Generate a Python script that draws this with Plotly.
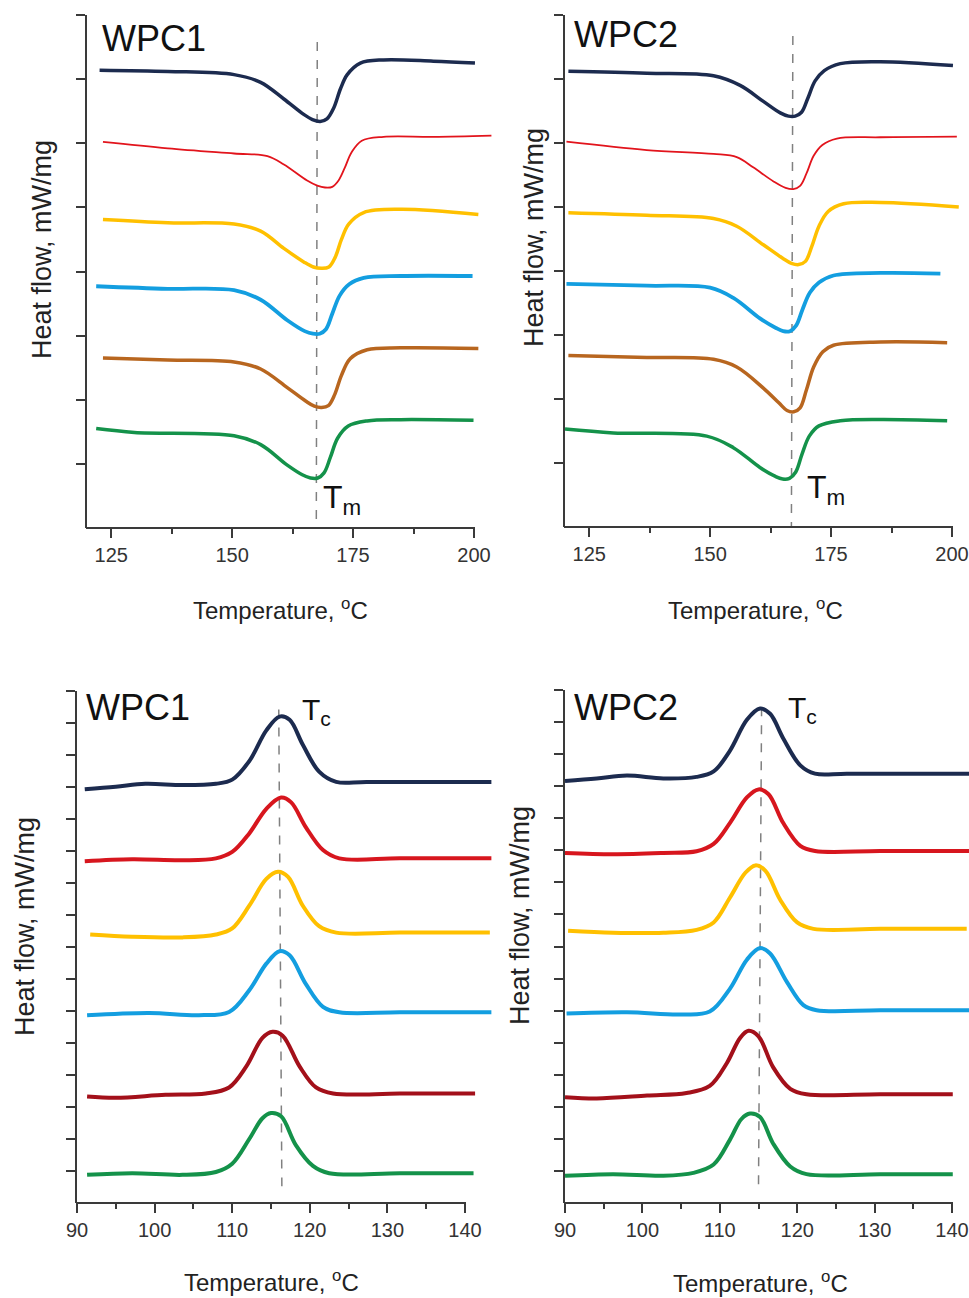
import plotly.graph_objects as go

W, H = 969, 1298
FONT = "Liberation Sans, Arial, sans-serif"

# ---------------- Melting curves (top row), heat flow in stacked arbitrary units ----------------
# WPC1
m1_navy_T = [122.6, 136.7, 150.4, 155.9, 160.7, 164.8, 166.6, 168.2, 169.6, 171.0, 172.4, 173.8, 176.5, 181.3, 191.6, 200.2]
m1_navy_hf = [7.14, 7.12, 7.07, 6.95, 6.69, 6.45, 6.37, 6.34, 6.38, 6.55, 6.85, 7.07, 7.25, 7.30, 7.28, 7.25]
m1_red_T = [123.3, 136.7, 150.4, 157.3, 160.7, 165.5, 167.6, 169.2, 170.7, 172.0, 173.3, 174.7, 176.8, 181.3, 191.6, 203.6]
m1_red_hf = [6.02, 5.92, 5.84, 5.80, 5.67, 5.42, 5.34, 5.31, 5.32, 5.42, 5.62, 5.86, 6.04, 6.10, 6.10, 6.12]
m1_yel_T = [123.3, 136.7, 150.4, 155.9, 160.7, 164.8, 166.8, 168.5, 170.0, 171.3, 172.6, 174.1, 177.2, 184.8, 200.9]
m1_yel_hf = [4.81, 4.76, 4.74, 4.63, 4.36, 4.15, 4.07, 4.05, 4.07, 4.22, 4.50, 4.74, 4.92, 4.97, 4.89]
m1_blu_T = [121.9, 136.7, 150.4, 155.9, 161.4, 165.0, 166.7, 168.1, 169.4, 170.7, 172.2, 174.2, 177.2, 184.8, 199.7]
m1_blu_hf = [3.77, 3.73, 3.71, 3.56, 3.24, 3.07, 3.03, 3.03, 3.10, 3.34, 3.62, 3.80, 3.90, 3.93, 3.93]
m1_brn_T = [123.3, 136.7, 150.4, 155.9, 161.4, 165.2, 167.0, 168.5, 169.9, 171.2, 172.6, 174.4, 177.9, 184.8, 200.9]
m1_brn_hf = [2.65, 2.62, 2.59, 2.48, 2.19, 1.98, 1.90, 1.88, 1.91, 2.08, 2.38, 2.64, 2.78, 2.81, 2.80]
m1_grn_T = [121.9, 129.8, 150.4, 155.9, 161.4, 164.5, 166.2, 167.7, 169.0, 170.3, 171.8, 174.0, 177.9, 184.8, 199.9]
m1_grn_hf = [1.55, 1.49, 1.44, 1.30, 0.98, 0.83, 0.78, 0.78, 0.86, 1.10, 1.40, 1.59, 1.67, 1.69, 1.68]
m1_tm_T = [167.6, 167.4]
m1_tm_hf = [7.58, 0.0]

# WPC2
m2_navy_T = [120.7, 136.9, 150.7, 156.2, 161.0, 164.5, 166.2, 167.6, 168.9, 170.2, 171.7, 173.6, 176.9, 185.2, 200.2]
m2_navy_hf = [7.12, 7.09, 7.05, 6.90, 6.65, 6.47, 6.42, 6.42, 6.48, 6.70, 6.97, 7.13, 7.24, 7.27, 7.21]
m2_red_T = [120.3, 136.9, 150.7, 155.5, 158.9, 163.1, 165.6, 167.2, 168.6, 169.9, 171.4, 173.2, 176.2, 185.2, 201.0]
m2_red_hf = [6.02, 5.89, 5.83, 5.78, 5.62, 5.40, 5.30, 5.28, 5.33, 5.52, 5.80, 5.97, 6.07, 6.09, 6.10]
m2_yel_T = [120.7, 136.9, 150.7, 155.5, 161.0, 165.0, 166.8, 168.3, 169.7, 171.0, 172.5, 174.4, 177.6, 185.2, 201.4]
m2_yel_hf = [4.91, 4.87, 4.82, 4.70, 4.41, 4.20, 4.12, 4.10, 4.15, 4.38, 4.70, 4.93, 5.05, 5.07, 5.00]
m2_blu_T = [120.3, 136.9, 150.0, 154.8, 160.3, 163.6, 165.1, 166.5, 167.8, 169.1, 170.6, 172.5, 175.5, 185.2, 197.6]
m2_blu_hf = [3.80, 3.77, 3.74, 3.58, 3.26, 3.11, 3.06, 3.06, 3.15, 3.40, 3.66, 3.82, 3.93, 3.97, 3.96]
m2_brn_T = [120.7, 136.9, 150.7, 155.5, 161.0, 164.2, 165.9, 167.3, 168.6, 169.9, 171.4, 173.3, 175.5, 185.2, 199.0]
m2_brn_hf = [2.68, 2.65, 2.62, 2.50, 2.17, 1.94, 1.82, 1.80, 1.86, 2.14, 2.50, 2.74, 2.84, 2.89, 2.88]
m2_grn_T = [120.0, 130.0, 149.3, 154.8, 160.3, 163.5, 165.0, 166.4, 167.7, 169.0, 170.5, 172.5, 176.9, 185.2, 199.0]
m2_grn_hf = [1.53, 1.47, 1.42, 1.24, 0.93, 0.79, 0.75, 0.76, 0.86, 1.14, 1.42, 1.58, 1.66, 1.68, 1.66]
m2_tm_T = [167.1, 166.8]
m2_tm_hf = [7.67, 0.0]

# ---------------- Crystallization curves (bottom row) ----------------
# WPC1
c1_navy_T = [91.0, 95.0, 98.8, 103.6, 107.9, 110.0, 112.2, 114.4, 116.1, 117.4, 119.1, 121.2, 123.4, 127.3, 143.4]
c1_navy_hf = [12.93, 13.01, 13.10, 13.06, 13.10, 13.23, 13.81, 14.77, 15.20, 15.10, 14.32, 13.48, 13.16, 13.16, 13.16]
c1_red_T = [91.0, 97.1, 103.6, 107.9, 110.0, 112.2, 114.4, 116.3, 117.6, 119.5, 121.7, 123.8, 131.6, 143.4]
c1_red_hf = [10.68, 10.74, 10.71, 10.77, 10.97, 11.55, 12.32, 12.67, 12.52, 11.74, 11.03, 10.77, 10.77, 10.77]
c1_yel_T = [91.7, 97.1, 103.6, 107.9, 110.0, 112.2, 114.4, 115.9, 117.2, 119.1, 121.2, 123.4, 131.6, 143.2]
c1_yel_hf = [8.39, 8.32, 8.30, 8.39, 8.58, 9.29, 10.13, 10.35, 10.19, 9.29, 8.65, 8.45, 8.45, 8.45]
c1_blu_T = [91.3, 99.3, 105.7, 109.6, 112.2, 114.4, 116.1, 117.4, 119.5, 121.7, 123.8, 131.6, 143.4]
c1_blu_hf = [5.87, 5.94, 5.87, 5.97, 6.65, 7.48, 7.87, 7.74, 6.84, 6.13, 5.96, 5.96, 5.96]
c1_mar_T = [91.3, 95.0, 101.4, 106.6, 109.6, 111.8, 113.9, 115.2, 116.5, 118.7, 120.8, 123.0, 131.6, 141.3]
c1_mar_hf = [3.33, 3.29, 3.38, 3.42, 3.61, 4.26, 5.16, 5.35, 5.23, 4.26, 3.61, 3.42, 3.42, 3.42]
c1_grn_T = [91.3, 97.1, 103.6, 107.9, 110.0, 112.2, 113.9, 115.0, 116.3, 118.2, 120.4, 122.5, 131.6, 141.1]
c1_grn_hf = [0.88, 0.93, 0.88, 0.97, 1.23, 2.00, 2.65, 2.81, 2.71, 1.81, 1.16, 0.93, 0.93, 0.93]
c1_tc_T = [116.0, 116.4]
c1_tc_hf = [15.42, 0.52]

# WPC2
c2_navy_T = [90.0, 94.1, 98.0, 102.7, 107.0, 109.2, 111.3, 113.5, 115.2, 116.5, 118.2, 120.4, 122.3, 126.4, 142.2]
c2_navy_hf = [13.16, 13.24, 13.33, 13.24, 13.29, 13.46, 14.10, 15.07, 15.42, 15.26, 14.49, 13.65, 13.39, 13.39, 13.39]
c2_red_T = [90.0, 96.2, 102.7, 107.0, 109.2, 111.3, 113.5, 115.0, 116.3, 118.2, 120.4, 122.3, 130.7, 142.2]
c2_red_hf = [10.92, 10.88, 10.92, 10.97, 11.20, 11.85, 12.65, 12.90, 12.75, 11.85, 11.14, 10.98, 10.98, 10.98]
c2_yel_T = [90.4, 96.2, 102.7, 107.0, 109.2, 111.3, 113.3, 114.6, 115.9, 117.8, 120.0, 122.1, 130.7, 141.9]
c2_yel_hf = [8.49, 8.43, 8.43, 8.52, 8.75, 9.52, 10.30, 10.53, 10.36, 9.46, 8.75, 8.55, 8.55, 8.55]
c2_blu_T = [90.2, 98.0, 104.9, 108.7, 111.3, 113.5, 115.2, 116.5, 118.7, 120.8, 122.5, 130.7, 142.2]
c2_blu_hf = [5.91, 5.95, 5.88, 5.97, 6.68, 7.59, 7.95, 7.78, 6.88, 6.17, 6.01, 6.01, 6.01]
c2_mar_T = [90.0, 94.1, 100.6, 105.7, 108.7, 110.9, 112.6, 113.7, 115.0, 116.9, 119.1, 121.2, 130.7, 140.1]
c2_mar_hf = [3.30, 3.26, 3.35, 3.43, 3.65, 4.36, 5.14, 5.37, 5.20, 4.23, 3.56, 3.39, 3.39, 3.39]
c2_grn_T = [90.0, 96.2, 102.7, 106.6, 109.2, 111.3, 112.8, 113.9, 115.2, 116.9, 119.1, 121.2, 130.7, 140.1]
c2_grn_hf = [0.85, 0.90, 0.85, 0.94, 1.20, 1.97, 2.62, 2.79, 2.68, 1.85, 1.14, 0.90, 0.90, 0.90]
c2_tc_T = [115.4, 115.0]
c2_tc_hf = [15.46, 0.49]

# tick labels
melt_ticks = [125, 150, 175, 200]
melt_minor = [137.5, 162.5, 187.5]
cryst_ticks = [90, 100, 110, 120, 130, 140]
cryst_minor = [95, 105, 115, 125, 135]

# colours
NAVY = "#1c2b4f"
RED = "#e2141c"
YEL = "#ffc000"
BLU = "#139ee0"
BRN = "#b8661f"
MAR = "#a3101a"
GRN = "#14924a"
AXC = "#3a3a3a"

# ---------------- panel geometry (pixels) ----------------
panels = {
    "tl": dict(xa=87, a=120, xb=474, b=200, xr=493.4, yb=528, yt=15, ymax=8),
    "tr": dict(xa=565, a=120, xb=952, b=200, xr=969, yb=527, yt=15, ymax=8),
    "bl": dict(xa=77, a=90, xb=465, b=140, xr=492, yb=1203, yt=691, ymax=16),
    "br": dict(xa=565, a=90, xb=952, b=140, xr=969, yb=1203, yt=690, ymax=16),
}

fig = go.Figure()
axis_ids = {"tl": ("x", "y"), "tr": ("x2", "y2"), "bl": ("x3", "y3"), "br": ("x4", "y4")}
layout_updates = {}
shapes = []

for key, p in panels.items():
    ppd = (p["xb"] - p["xa"]) / (p["b"] - p["a"])
    xmax = p["a"] + (p["xr"] - p["xa"]) / ppd
    xa_name, ya_name = axis_ids[key]
    xl = "xaxis" + xa_name[1:]
    yl = "yaxis" + ya_name[1:]
    top = key in ("tl", "tr")
    layout_updates[xl] = dict(
        domain=[p["xa"] / W, min(p["xr"] / W, 1.0)],
        range=[p["a"], xmax],
        anchor=ya_name,
        automargin=False,
        showline=False, showgrid=False, zeroline=False,
        ticks="outside", ticklen=9, tickwidth=2, tickcolor=AXC,
        tickvals=melt_ticks if top else cryst_ticks,
        minor=dict(tickvals=melt_minor if top else cryst_minor, ticks="outside",
                   ticklen=5, tickwidth=2, tickcolor=AXC),
        tickfont=dict(family=FONT, size=20, color="#333333"),
        fixedrange=True,
    )
    layout_updates[yl] = dict(
        domain=[1 - p["yb"] / H, 1 - p["yt"] / H],
        range=[0, p["ymax"]],
        anchor=xa_name,
        automargin=False,
        showline=True, linewidth=2, linecolor=AXC,
        showgrid=False, zeroline=False,
        ticks="outside", ticklen=9, tickwidth=2, tickcolor=AXC,
        tickvals=list(range(1, p["ymax"] + 1)),
        showticklabels=False,
        fixedrange=True,
    )
    shapes.append(dict(type="line", xref="paper", yref="paper",
                       x0=(p["xa"] - 1) / W, x1=(p["xb"] + 1) / W,
                       y0=1 - p["yb"] / H, y1=1 - p["yb"] / H,
                       line=dict(color=AXC, width=2)))


def add(T, hf, color, width, axes, dash=None):
    xa_name, ya_name = axes
    fig.add_trace(go.Scatter(
        x=T, y=hf, mode="lines", xaxis=xa_name, yaxis=ya_name,
        line=dict(color=color, width=width, shape="linear" if dash else "spline",
                  smoothing=1.0, dash=dash),
        hoverinfo="skip", showlegend=False))


ax = axis_ids["tl"]
add(m1_tm_T, m1_tm_hf, "#808080", 1.5, ax, dash="dash")
add(m1_navy_T, m1_navy_hf, NAVY, 3.5, ax)
add(m1_red_T, m1_red_hf, RED, 1.8, ax)
add(m1_yel_T, m1_yel_hf, YEL, 3.5, ax)
add(m1_blu_T, m1_blu_hf, BLU, 3.8, ax)
add(m1_brn_T, m1_brn_hf, BRN, 3.5, ax)
add(m1_grn_T, m1_grn_hf, GRN, 3.5, ax)
ax = axis_ids["tr"]
add(m2_tm_T, m2_tm_hf, "#808080", 1.5, ax, dash="dash")
add(m2_navy_T, m2_navy_hf, NAVY, 3.5, ax)
add(m2_red_T, m2_red_hf, RED, 1.8, ax)
add(m2_yel_T, m2_yel_hf, YEL, 3.5, ax)
add(m2_blu_T, m2_blu_hf, BLU, 3.8, ax)
add(m2_brn_T, m2_brn_hf, BRN, 3.5, ax)
add(m2_grn_T, m2_grn_hf, GRN, 3.5, ax)
ax = axis_ids["bl"]
add(c1_tc_T, c1_tc_hf, "#808080", 1.5, ax, dash="dash")
add(c1_navy_T, c1_navy_hf, NAVY, 4, ax)
add(c1_red_T, c1_red_hf, "#d7161e", 4, ax)
add(c1_yel_T, c1_yel_hf, YEL, 4, ax)
add(c1_blu_T, c1_blu_hf, BLU, 4, ax)
add(c1_mar_T, c1_mar_hf, MAR, 4, ax)
add(c1_grn_T, c1_grn_hf, GRN, 4, ax)
ax = axis_ids["br"]
add(c2_tc_T, c2_tc_hf, "#808080", 1.5, ax, dash="dash")
add(c2_navy_T, c2_navy_hf, NAVY, 4, ax)
add(c2_red_T, c2_red_hf, "#d7161e", 4, ax)
add(c2_yel_T, c2_yel_hf, YEL, 4, ax)
add(c2_blu_T, c2_blu_hf, BLU, 4, ax)
add(c2_mar_T, c2_mar_hf, MAR, 4, ax)
add(c2_grn_T, c2_grn_hf, GRN, 4, ax)

annotations = []


def ann_data(text, x, y, axes, size, xanchor="left", yanchor="middle"):
    annotations.append(dict(text=text, x=x, y=y, xref=axes[0], yref=axes[1],
                            xanchor=xanchor, yanchor=yanchor, showarrow=False,
                            font=dict(family=FONT, size=size, color="#111111")))


def ann_px(text, xp, yp, size, angle=0):
    annotations.append(dict(text=text, x=xp / W, y=1 - yp / H, xref="paper", yref="paper",
                            xanchor="center", yanchor="middle", showarrow=False,
                            textangle=angle,
                            font=dict(family=FONT, size=size, color="#222222")))


ann_data("WPC1", 122.6, 7.63, axis_ids["tl"], 36)
ann_data("WPC2", 121.4, 7.70, axis_ids["tr"], 36)
ann_data("WPC1", 90.9, 15.48, axis_ids["bl"], 36)
ann_data("WPC2", 90.9, 15.46, axis_ids["br"], 36)
ann_data("T<sub>m</sub>", 168.4, 0.44, axis_ids["tl"], 32)
ann_data("T<sub>m</sub>", 169.6, 0.58, axis_ids["tr"], 32)
ann_data("T<sub>c</sub>", 118.8, 15.35, axis_ids["bl"], 30)
ann_data("T<sub>c</sub>", 118.6, 15.38, axis_ids["br"], 30)

xt = "Temperature, <sup>o</sup>C"
yt = "Heat flow, mW/mg"
ann_px(xt, 280, 609, 24)
ann_px(xt, 755, 609, 24)
ann_px(xt, 271, 1281, 24)
ann_px(xt, 760, 1282, 24)
ann_px(yt, 42, 250, 27, angle=-90)
ann_px(yt, 534, 238, 27, angle=-90)
ann_px(yt, 25, 927, 27, angle=-90)
ann_px(yt, 520, 916, 27, angle=-90)

fig.update_layout(
    width=W, height=H,
    margin=dict(l=0, r=0, t=0, b=0, autoexpand=False),
    paper_bgcolor="white", plot_bgcolor="white",
    showlegend=False,
    shapes=shapes, annotations=annotations,
    **layout_updates,
)

fig.write_html(
    "out.html",
    config={"displayModeBar": False},
    post_script="document.documentElement.style.margin='0';document.body.style.margin='0';"
                "document.body.style.padding='0';document.body.style.overflow='hidden';",
)
